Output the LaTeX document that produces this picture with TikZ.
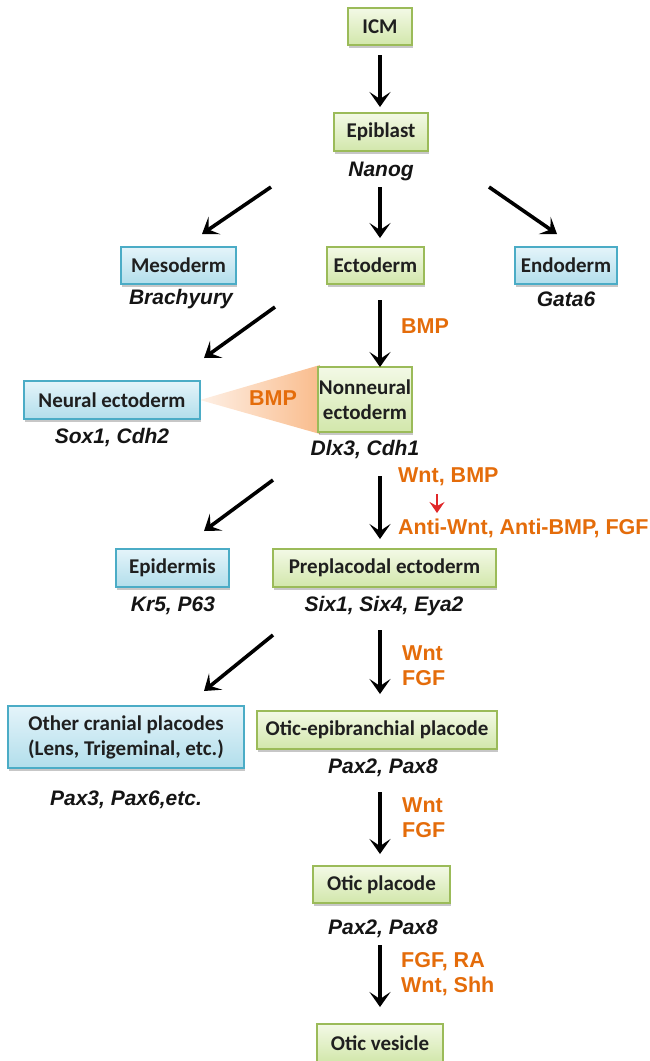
\documentclass[tikz,border=0pt]{standalone}
\usepackage{fontspec}
\setmainfont{Liberation Sans}
\newfontfamily\boxfont{Carlito}
\usetikzlibrary{arrows.meta,shadows}

\definecolor{gborder}{HTML}{9BBB59}
\definecolor{gtop}{HTML}{F3F9E6}
\definecolor{gbot}{HTML}{D2E7AB}
\definecolor{bborder}{HTML}{4BACC6}
\definecolor{btop}{HTML}{E4F4FA}
\definecolor{bbot}{HTML}{B2DEEB}
\definecolor{orangetxt}{HTML}{E46C0A}
\definecolor{redarrow}{HTML}{E0282A}
\definecolor{trilight}{HTML}{FEF0E6}
\definecolor{tridark}{HTML}{F9BC8C}

\tikzset{
  x=1pt, y=-1pt,
  box/.style={rectangle, line width=1.6pt, minimum height=37pt, inner sep=0pt,
    align=center, font=\boxfont\bfseries\fontsize{21}{25}\selectfont, text=black!88,
    drop shadow={shadow xshift=1pt,shadow yshift=-2.5pt,opacity=0.22,fill=black}},
  gbox/.style={box, draw=gborder, top color=gtop, bottom color=gbot},
  bbox/.style={box, draw=bborder, top color=btop, bottom color=bbot},
  gene/.style={font=\bfseries\itshape\fontsize{21}{25}\selectfont, text=black!92, inner sep=0pt},
  sig/.style={font=\bfseries\fontsize{21.5}{25}\selectfont, text=orangetxt, inner sep=0pt, align=left, anchor=west},
  flow/.style={line width=3.6pt, -{Stealth[length=15pt,width=21pt,inset=7pt]}},
}

\begin{document}
\begin{tikzpicture}
\useasboundingbox (0,0) rectangle (649,1061);
\clip (0,0) rectangle (649,1061);

% triangle behind the nonneural box
\shade[left color=trilight, right color=tridark] (200,400) -- (320,365) -- (320,434) -- cycle;
\node[sig, anchor=center] (bmptri) at (273,398) {BMP};

% boxes
\node[gbox, minimum width=64pt] (icm) at (380,26.5) {ICM};
\node[gbox, minimum width=94pt, minimum height=38pt] (epi) at (381,132) {Epiblast};
\node[bbox, minimum width=115pt] (meso) at (178.5,265.5) {Mesoderm};
\node[gbox, minimum width=97pt] (ecto) at (375.5,265.5) {Ectoderm};
\node[bbox, minimum width=102pt] (endo) at (566,265.5) {Endoderm};
\node[bbox, minimum width=176pt, minimum height=38pt] (neural) at (112,400) {Neural ectoderm};
\node[gbox, minimum width=94pt, minimum height=65pt] (nonneural) at (365,399.5) {Nonneural\\ectoderm};
\node[bbox, minimum width=113pt, minimum height=38pt] (epid) at (172.5,568) {Epidermis};
\node[gbox, minimum width=223pt, minimum height=38pt] (prepl) at (384.5,568) {Preplacodal ectoderm};
\node[bbox, minimum width=236pt, minimum height=62pt] (other) at (126,737) {Other cranial placodes\\(Lens, Trigeminal, etc.)};
\node[gbox, minimum width=240pt, minimum height=38pt] (oticepi) at (377,730) {Otic-epibranchial placode};
\node[gbox, minimum width=137pt] (oticpl) at (381.5,884.5) {Otic placode};
\node[gbox, minimum width=126pt, minimum height=38pt] (oticves) at (380,1043) {Otic vesicle};

% genes
\node[gene] (g1) at (381,171) {Nanog};
\node[gene] (g2) at (181,299) {Brachyury};
\node[gene] (g3) at (566,299) {Gata6};
\node[gene] (g4) at (112,438) {Sox1, Cdh2};
\node[gene] (g5) at (365,450) {Dlx3, Cdh1};
\node[gene] (g6) at (173,606) {Kr5, P63};
\node[gene] (g7) at (384,606) {Six1, Six4, Eya2};
\node[gene] (g8) at (126,800) {Pax3, Pax6,etc.};
\node[gene] (g9) at (383,768) {Pax2, Pax8};
\node[gene] (g10) at (383,929) {Pax2, Pax8};

% signals
\node[sig] (s1) at (401,326) {BMP};
\node[sig] (s2) at (398,477) {Wnt, BMP};
\node[sig] (s3) at (398,528) {Anti-Wnt, Anti-BMP, FGF};
\node[sig] (s4) at (402,665.5) {Wnt\\FGF};
\node[sig] (s5) at (402,817.5) {Wnt\\FGF};
\node[sig] (s6) at (401,974) {FGF, RA\\Wnt, Shh};

% arrow end points
\coordinate (a1s) at (380,55);  \coordinate (a1e) at (380,107);
\coordinate (a2s) at (380,187); \coordinate (a2e) at (380,238);
\coordinate (a3s) at (271,187); \coordinate (a3e) at (202,234);
\coordinate (a4s) at (489,187); \coordinate (a4e) at (557,234);
\coordinate (a5s) at (275,307); \coordinate (a5e) at (204,358);
\coordinate (a6s) at (380,300); \coordinate (a6e) at (380,367);
\coordinate (a7s) at (273,480); \coordinate (a7e) at (204,531);
\coordinate (a8s) at (380,476); \coordinate (a8e) at (380,539);
\coordinate (a9s) at (273,635); \coordinate (a9e) at (204,691);
\coordinate (a10s) at (380,630); \coordinate (a10e) at (380,694);
\coordinate (a11s) at (380,792); \coordinate (a11e) at (380,854);
\coordinate (a12s) at (380,945); \coordinate (a12e) at (380,1007);
\coordinate (rs) at (437,494); \coordinate (re) at (437,513);

\draw[flow] (a1s) -- (a1e);
\draw[flow] (a2s) -- (a2e);
\draw[flow] (a3s) -- (a3e);
\draw[flow] (a4s) -- (a4e);
\draw[flow] (a5s) -- (a5e);
\draw[flow] (a6s) -- (a6e);
\draw[flow] (a7s) -- (a7e);
\draw[flow] (a8s) -- (a8e);
\draw[flow] (a9s) -- (a9e);
\draw[flow] (a10s) -- (a10e);
\draw[flow] (a11s) -- (a11e);
\draw[flow] (a12s) -- (a12e);
\draw[redarrow, line width=2.6pt, -{Stealth[length=11pt,width=15pt,inset=4pt]}] (rs) -- (re);
\end{tikzpicture}
\end{document}
